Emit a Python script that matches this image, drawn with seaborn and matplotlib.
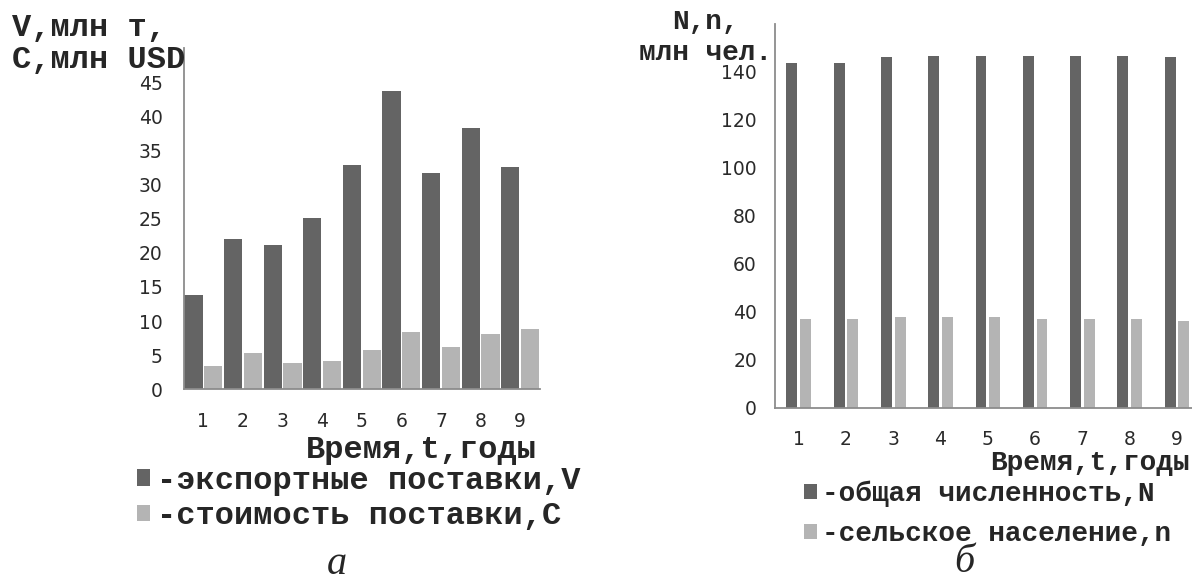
import numpy as np
import pandas as pd
import matplotlib
matplotlib.use("Agg")
import matplotlib.pyplot as plt
import seaborn as sns

# data
years = ["1", "2", "3", "4", "5", "6", "7", "8", "9"]
export_v = [13.8, 22.0, 21.1, 25.1, 32.9, 43.7, 31.7, 38.3, 32.6]
cost_c = [3.4, 5.3, 3.9, 4.15, 5.8, 8.4, 6.2, 8.1, 8.8]
total_n = [143.5, 143.5, 146.0, 146.7, 146.7, 146.7, 146.7, 146.7, 146.0]
rural_n = [37.0, 37.0, 37.7, 37.7, 37.7, 36.9, 36.9, 36.9, 36.3]

left_series = ["-экспортные поставки,V", "-стоимость поставки,C"]
right_series = ["-общая численность,N", "-сельское население,n"]
left_yticks = [0, 5, 10, 15, 20, 25, 30, 35, 40, 45]
right_yticks = [0, 20, 40, 60, 80, 100, 120, 140, 160]

DARK = "#646464"
LIGHT = "#b4b4b4"
AXIS = "#8c8c8c"
MONO = "Liberation Mono"
LBL_L = 23   # left panel captions
LBL_R = 20   # right panel captions (a bit smaller in the original)

sns.set_style("white")
plt.rcParams['font.family'] = ['DejaVu Sans']

left_df = pd.DataFrame({
    "t": years * 2,
    "value": export_v + cost_c,
    "series": [left_series[0]] * 9 + [left_series[1]] * 9,
})
right_df = pd.DataFrame({
    "t": years * 2,
    "value": total_n + rural_n,
    "series": [right_series[0]] * 9 + [right_series[1]] * 9,
})

fig = plt.figure(figsize=(11.92, 5.84), dpi=100)
W, H = 1192, 584


def px_axes(x0, x1, top, bottom):
    return fig.add_axes([x0 / W, 1 - bottom / H, (x1 - x0) / W, (bottom - top) / H])


def style_axes(ax):
    sns.despine(ax=ax)
    for side in ("left", "bottom"):
        ax.spines[side].set_color(AXIS)
        ax.spines[side].set_linewidth(1.3)
    ax.set_xlabel("")
    ax.set_ylabel("")
    ax.tick_params(axis="y", which="major", direction="out", length=6,
                   width=1.2, color=AXIS, labelsize=13.5, labelcolor="#2a2a2a")
    ax.tick_params(axis="x", which="major", length=0, labelsize=13.5,
                   labelcolor="#2a2a2a")


# ---- left chart (a)
ax1 = px_axes(183.5, 540, 48.3, 389.3)
sns.barplot(data=left_df, x="t", y="value", hue="series",
            palette=[DARK, LIGHT], width=1.0, gap=0.08,
            edgecolor="none", ax=ax1)
ax1.set_xlim(-0.5, 8.5)
ax1.set_ylim(0, 50)
ax1.set_yticks(left_yticks)
style_axes(ax1)
ax1.tick_params(axis="y", pad=9)
ax1.tick_params(axis="x", pad=16)
h1, _ = ax1.get_legend_handles_labels()
ax1.get_legend().remove()
fig.legend(h1, left_series, loc="upper left",
           bbox_to_anchor=(137 / W, 1 - 466 / H), frameon=False,
           prop={"family": MONO, "weight": "bold", "size": LBL_L},
           handlelength=0.42, handleheight=0.42, handletextpad=0.2,
           labelspacing=0.17, borderpad=0, borderaxespad=0)

fig.text(11.7 / W, 1 - 28 / H, "V,млн т,", family=MONO, weight="bold",
         size=LBL_L, ha="left", va="center")
fig.text(11.7 / W, 1 - 60 / H, "C,млн USD", family=MONO, weight="bold",
         size=LBL_L, ha="left", va="center")
fig.text(537 / W, 1 - 450 / H, "Время,t,годы", family=MONO, weight="bold",
         size=LBL_L, ha="right", va="center")
fig.text(337 / W, 1 - 564 / H, "а", family="Liberation Serif", style="italic",
         size=29, ha="center", va="center")

# ---- right chart (б)
ax2 = px_axes(775, 775 + 9 * 47.3, 23.7, 407.7)
sns.barplot(data=right_df, x="t", y="value", hue="series",
            palette=[DARK, LIGHT], width=0.58, gap=0.2,
            edgecolor="none", ax=ax2)
ax2.set_xlim(-0.5, 8.5)
ax2.set_ylim(0, 160)
ax2.set_yticks(right_yticks)
ax2.set_yticklabels([str(v) if v < 160 else "" for v in right_yticks])
style_axes(ax2)
ax2.tick_params(axis="y", pad=7)
ax2.set_xticks(np.arange(-0.5, 9, 1), minor=True)
ax2.tick_params(axis="x", which="minor", direction="out", length=7,
                width=1.2, color=AXIS)
ax2.tick_params(axis="x", pad=16)
h2, _ = ax2.get_legend_handles_labels()
ax2.get_legend().remove()
fig.legend(h2, right_series, loc="upper left",
           bbox_to_anchor=(804 / W, 1 - 481 / H), frameon=False,
           prop={"family": MONO, "weight": "bold", "size": LBL_R},
           handlelength=0.45, handleheight=0.45, handletextpad=0.2,
           labelspacing=0.5, borderpad=0, borderaxespad=0)

fig.text(705 / W, 1 - 22 / H, "N,n,", family=MONO, weight="bold",
         size=LBL_R, ha="center", va="center")
fig.text(705 / W, 1 - 53 / H, "млн чел.", family=MONO, weight="bold",
         size=LBL_R, ha="center", va="center")
fig.text(1190 / W, 1 - 463 / H, "Время,t,годы", family=MONO, weight="bold",
         size=LBL_R, ha="right", va="center")
fig.text(964 / W, 1 - 563 / H, "б", family="Liberation Serif", style="italic",
         size=29, ha="center", va="center")

fig.savefig("out.png", dpi=100)
